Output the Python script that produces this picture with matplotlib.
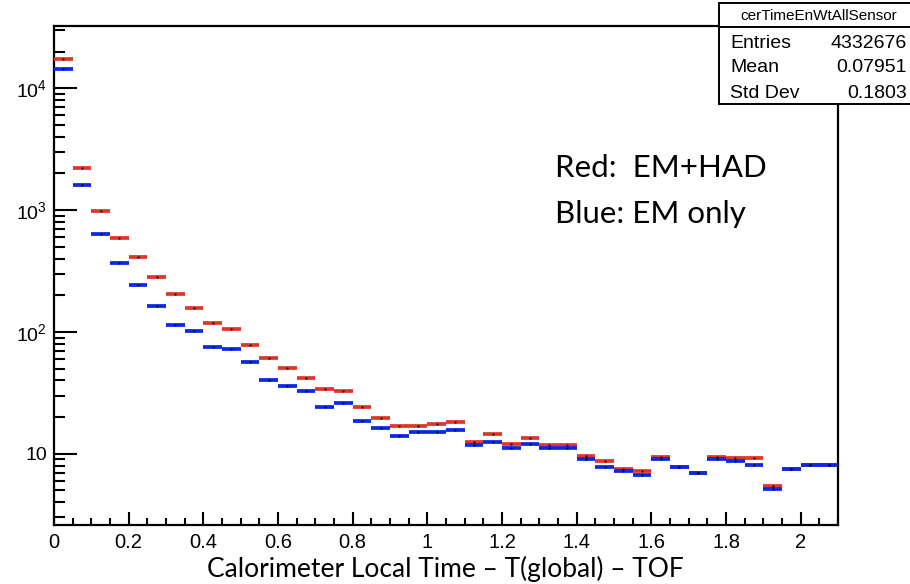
import matplotlib
matplotlib.use("Agg")
import matplotlib.pyplot as plt
import numpy as np
from matplotlib.lines import Line2D
from matplotlib.patches import Rectangle
from matplotlib.ticker import FixedLocator, LogLocator, MultipleLocator, NullFormatter

plt.rcParams["font.family"] = ["Liberation Sans", "DejaVu Sans"]
plt.rcParams["mathtext.fontset"] = "custom"
plt.rcParams["mathtext.rm"] = "Liberation Sans"
plt.rcParams["mathtext.it"] = "Liberation Sans"

# histogram binning (42 bins of width 0.05 from 0 to 2.1)
bin_edges = np.linspace(0.0, 2.1, 43)

# red: EM+HAD
red_counts = [
    17400, 2230, 990, 592, 411, 283, 204, 157, 118, 105,
    78.7, 60.8, 50.6, 41.9, 33.8, 32.6, 24.2, 19.5, 16.8, 16.8,
    17.4, 18.1, 12.6, 14.5, 12.1, 13.5, 11.7, 11.7, 9.65, 8.66,
    7.55, 7.2, 9.46, 7.78, 6.99, 9.4, 9.3, 9.3, 5.43, 7.48,
    8.08, 8.08,
]
# blue: EM only
blue_counts = [
    14400, 1600, 638, 367, 245, 164, 113.6, 101, 75.3, 73,
    56.7, 40.6, 36.3, 32.6, 24.2, 26.1, 18.7, 16.3, 14.0, 15.1,
    15.1, 15.6, 11.7, 12.6, 11.2, 12.1, 11.2, 11.2, 9.0, 7.78,
    7.2, 6.73, 9.05, 7.78, 6.99, 9.05, 8.7, 8.08, 5.1, 7.48,
    8.08, 8.08,
]

stats_title = "cerTimeEnWtAllSensor"
stats_names = ["Entries", "Mean", "Std Dev"]
stats_values = ["4332676", "0.07951", "0.1803"]

W, H = 910, 584
fig = plt.figure(figsize=(W / 100, H / 100), dpi=100)
ax = fig.add_axes([54 / W, 1 - 525 / H, (838 - 54) / W, (525 - 26) / H])

lo, hi = bin_edges[:-1], bin_edges[1:]
centers = 0.5 * (lo + hi)
for counts, color in [(red_counts, "#e1352b"), (blue_counts, "#0b28e4")]:
    ax.hlines(counts, lo, hi, colors=color, linewidth=2.7, zorder=3)
    ax.plot(centers, counts, ls="none", marker="o", ms=0.5, color="black", zorder=4)

ax.set_yscale("log")
ax.set_xlim(0, 2.1)
ax.set_ylim(2.6, 32500)

ax.xaxis.set_minor_locator(MultipleLocator(0.05))
ax.set_xticks([0, 0.2, 0.4, 0.6, 0.8, 1.0, 1.2, 1.4, 1.6, 1.8, 2.0])
ax.set_xticklabels(["0", "0.2", "0.4", "0.6", "0.8", "1", "1.2", "1.4", "1.6", "1.8", "2"])
ax.yaxis.set_major_locator(FixedLocator([10, 100, 1000, 10000]))
ax.set_yticklabels(["10", "$10^{2}$", "$10^{3}$", "$10^{4}$"])
ax.yaxis.set_minor_locator(LogLocator(base=10, subs=np.arange(2, 10)))
ax.yaxis.set_minor_formatter(NullFormatter())

ax.tick_params(axis="both", which="both", direction="in", width=1.5)
ax.tick_params(axis="x", which="major", length=9.5, pad=6, labelsize=14.5)
ax.tick_params(axis="x", which="minor", length=5)
ax.tick_params(axis="y", which="major", length=16.5, pad=5, labelsize=14)
ax.tick_params(axis="y", which="minor", length=8)
for s in ax.spines.values():
    s.set_linewidth(1.6)

# legend text written on the slide
slide_font = ["Lato", "DejaVu Sans"]
fig.text(555 / W, 1 - 177 / H, "Red:  EM+HAD", family=slide_font, fontsize=22.5, va="baseline")
fig.text(555 / W, 1 - 223 / H, "Blue: EM only", family=slide_font, fontsize=22.5, va="baseline")

# x-axis title, pushed to the bottom edge
fig.text(445 / W, 1.5 / H, "Calorimeter Local Time \u2013 T(global) \u2013 TOF",
         ha="center", va="bottom", fontsize=19, family=slide_font)

# stats box
box = Rectangle((719 / W, 1 - 104 / H), (915 - 719) / W, (104 - 3) / H,
                transform=fig.transFigure, facecolor="white", edgecolor="black",
                linewidth=1.4, zorder=10)
fig.add_artist(box)
fig.add_artist(Line2D([719 / W, 1.0], [1 - 26.5 / H, 1 - 26.5 / H],
                      transform=fig.transFigure, color="black", lw=1.4, zorder=11))
fig.text(819 / W, 1 - 15.5 / H, stats_title, ha="center", va="center", fontsize=11, zorder=12)
for i, (name, val) in enumerate(zip(stats_names, stats_values)):
    y = 1 - (43 + 25 * i) / H
    fig.text(730 / W, y, name, ha="left", va="center", fontsize=14, zorder=12)
    fig.text(907 / W, y, val, ha="right", va="center", fontsize=14, zorder=12)

fig.savefig("out.png", dpi=100)
